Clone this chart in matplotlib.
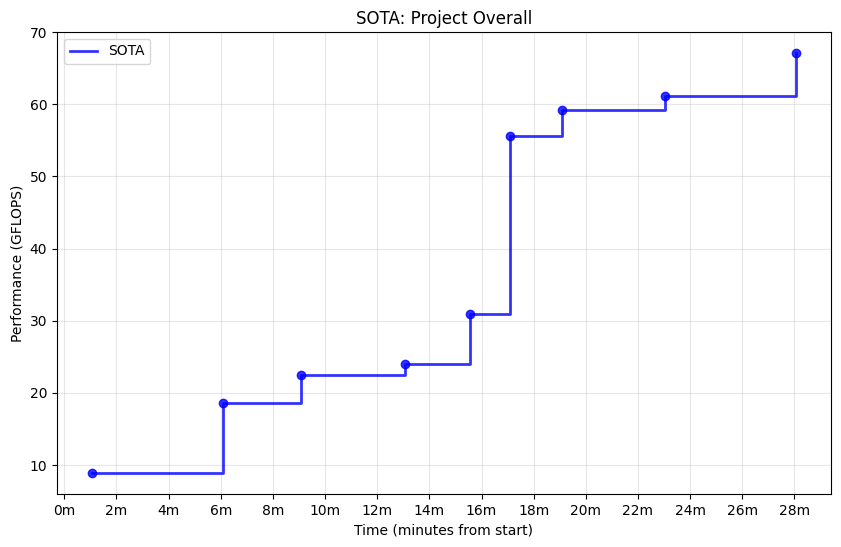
import matplotlib
matplotlib.use("Agg")
import matplotlib.pyplot as plt
from matplotlib.ticker import FuncFormatter, MultipleLocator

# SOTA improvements: time (minutes from start) and performance (GFLOPS)
times = [1.07, 6.08, 9.07, 13.05, 15.55, 17.1, 19.07, 23.05, 28.05]
gflops = [8.9, 18.6, 22.5, 24.0, 30.9, 55.6, 59.2, 61.1, 67.1]

fig = plt.figure(figsize=(8.41, 5.47), dpi=100)
ax = fig.add_axes([0.0678, 0.097, 0.9202, 0.8445])

ax.step(times, gflops, where="post", color="blue", alpha=0.8, linewidth=2, label="SOTA")
ax.scatter(times, gflops, color="blue", alpha=0.8, s=36, zorder=3)

ax.set_title("SOTA: Project Overall")
ax.set_xlabel("Time (minutes from start)")
ax.set_ylabel("Performance (GFLOPS)")
ax.xaxis.set_major_locator(MultipleLocator(2))
ax.xaxis.set_major_formatter(FuncFormatter(lambda v, _: f"{v:.0f}m"))
ax.grid(True, alpha=0.3)
ax.legend(loc="upper left")

fig.savefig("out.png", dpi=100)
